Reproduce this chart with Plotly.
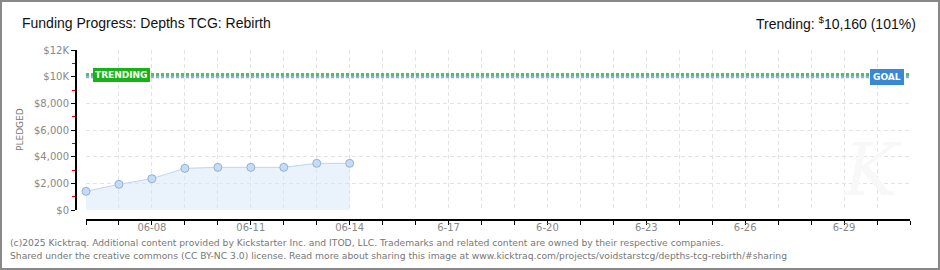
import plotly.graph_objects as go

# ---- data ----
dates = ["2025-06-06", "2025-06-07", "2025-06-08", "2025-06-09", "2025-06-10",
         "2025-06-11", "2025-06-12", "2025-06-13", "2025-06-14"]
pledged = [1400, 1925, 2350, 3125, 3200, 3200, 3200, 3500, 3500]
goal = 10000
trending = 10160
x_start = "2025-06-06"
x_end = "2025-07-01"
day_ticks = [f"2025-06-{d:02d}" for d in range(6, 31)] + ["2025-07-01"]
day_text = [" ", " ", "06-08", " ", " ", "06-11", " ", " ", "06-14", " ", " ", "6-17", " ", " ",
            "6-20", " ", " ", "6-23", " ", " ", "6-26", " ", " ", "6-29", " ", " "]
y_vals = [0, 2000, 4000, 6000, 8000, 10000, 12000]
y_text = ["$0", "$2,000", "$4,000", "$6,000", "$8,000", "$10K", "$12K"]

title = "Funding Progress: Depths TCG: Rebirth"
trend_text = "Trending: <sup>$</sup>10,160 (101%)"
credit1 = ("(c)2025 Kicktraq. Additional content provided by Kickstarter Inc. and ITOD, LLC. "
           "Trademarks and related content are owned by their respective companies.")
credit2 = ("Shared under the creative commons (CC BY-NC 3.0) license. Read more about sharing "
           "this image at www.kicktraq.com/projects/voidstarstcg/depths-tcg-rebirth/#sharing")

# ---- layout geometry (pixels) ----
W, H = 940, 270
L, R, T, B = 76, 30, 50, 50
PW, PH = W - L - R, H - T - B


def px(x):
    return (x - L) / PW


def py(y):
    return (H - B - y) / PH


fig = go.Figure()

# goal & trending lines
fig.add_trace(go.Scatter(x=[x_start, x_end], y=[goal, goal], mode="lines",
                         line=dict(color="#8eaee0", width=3, dash="3px,2px"),
                         hoverinfo="skip", showlegend=False))
fig.add_trace(go.Scatter(x=[x_start, x_end], y=[trending, trending], mode="lines",
                         line=dict(color="#55c055", width=3, dash="3px,2px"),
                         hoverinfo="skip", showlegend=False))

# pledged area
fig.add_trace(go.Scatter(x=dates, y=pledged, mode="lines+markers", fill="tozeroy",
                         fillcolor="rgba(214,230,250,0.5)",
                         line=dict(color="#bcd6f4", width=1),
                         marker=dict(size=8, color="#c4dcf8",
                                     line=dict(color="#94b0d4", width=1)),
                         cliponaxis=False, showlegend=False))

grid = "#e3e3e3"
fig.update_layout(
    width=W, height=H,
    margin=dict(l=L, r=R, t=T, b=B, pad=0),
    paper_bgcolor="white", plot_bgcolor="white",
    showlegend=False,
    xaxis=dict(
        type="date", range=[x_start, x_end],
        domain=[px(86), 1],
        anchor="free", position=0,
        tickmode="array", tickvals=day_ticks, ticktext=day_text,
        ticks="outside", ticklen=4, tickcolor="#000", tickwidth=1,
        ticklabelstandoff=-6,
        showline=True, linecolor="#000", linewidth=2,
        showgrid=True, gridcolor=grid, griddash="4px,3px", gridwidth=1,
        zeroline=False,
        tickfont=dict(family="DejaVu Sans", size=10, color="#888"),
    ),
    yaxis=dict(
        range=[0, 12000],
        domain=[py(210), 1],
        anchor="free", position=0,
        tickmode="array", tickvals=y_vals, ticktext=y_text,
        ticks="outside", ticklen=4, tickcolor="#000", tickwidth=1,
        minor=dict(tickmode="array", tickvals=[1000, 3000, 5000, 7000, 9000, 11000],
                   ticks="outside", ticklen=3, tickcolor="#e00000", tickwidth=1,
                   showgrid=False),
        showline=True, linecolor="#000", linewidth=2,
        showgrid=True, gridcolor=grid, griddash="4px,3px", gridwidth=1,
        zeroline=False,
        tickfont=dict(family="DejaVu Sans", size=10, color="#888"),
    ),
)

ann = []
ann.append(dict(text=title, x=px(20), y=py(23), xref="paper", yref="paper",
                xanchor="left", yanchor="middle", showarrow=False,
                font=dict(family="Liberation Sans", size=14, color="#111")))
ann.append(dict(text=trend_text, x=px(918), y=py(23), xref="paper", yref="paper",
                xanchor="right", yanchor="middle", showarrow=False,
                font=dict(family="Liberation Sans", size=14, color="#111")))
ann.append(dict(text="PLEDGED", x=px(20), y=py(130), xref="paper", yref="paper",
                xanchor="center", yanchor="middle", showarrow=False, textangle=-90,
                font=dict(family="DejaVu Sans", size=9, color="#777")))
ann.append(dict(text=credit1, x=px(8), y=py(242), xref="paper", yref="paper",
                xanchor="left", yanchor="middle", showarrow=False,
                font=dict(family="DejaVu Sans", size=9.2, color="#777")))
ann.append(dict(text=credit2, x=px(8), y=py(256), xref="paper", yref="paper",
                xanchor="left", yanchor="middle", showarrow=False,
                font=dict(family="DejaVu Sans", size=9.2, color="#777")))
# watermark
ann.append(dict(text="<i>K</i>", x=px(872), y=py(170), xref="paper", yref="paper",
                xanchor="center", yanchor="middle", showarrow=False,
                font=dict(family="DejaVu Serif", size=72, color="#f8f8f8")))
# labels on lines
ann.append(dict(text="<b>TRENDING</b>", x=x_start, y=trending, xref="x", yref="y",
                xanchor="left", yanchor="middle", xshift=7, showarrow=False,
                bgcolor="#16b316", bordercolor="#16b316", borderpad=1,
                font=dict(family="DejaVu Sans", size=9, color="white")))
ann.append(dict(text="<b>GOAL</b>", x=x_end, y=goal, xref="x", yref="y",
                xanchor="right", yanchor="middle", xshift=-6, showarrow=False,
                bgcolor="#3a88d4", bordercolor="#3a88d4", borderpad=2,
                font=dict(family="DejaVu Sans", size=9, color="white")))
fig.update_layout(annotations=ann)

# outer frame
fig.add_shape(type="rect", xref="paper", yref="paper",
              x0=px(1), x1=px(W - 1), y0=py(H - 1), y1=py(1),
              line=dict(color="#888", width=2), fillcolor="rgba(0,0,0,0)", layer="above")

fig.write_html("out.html")
